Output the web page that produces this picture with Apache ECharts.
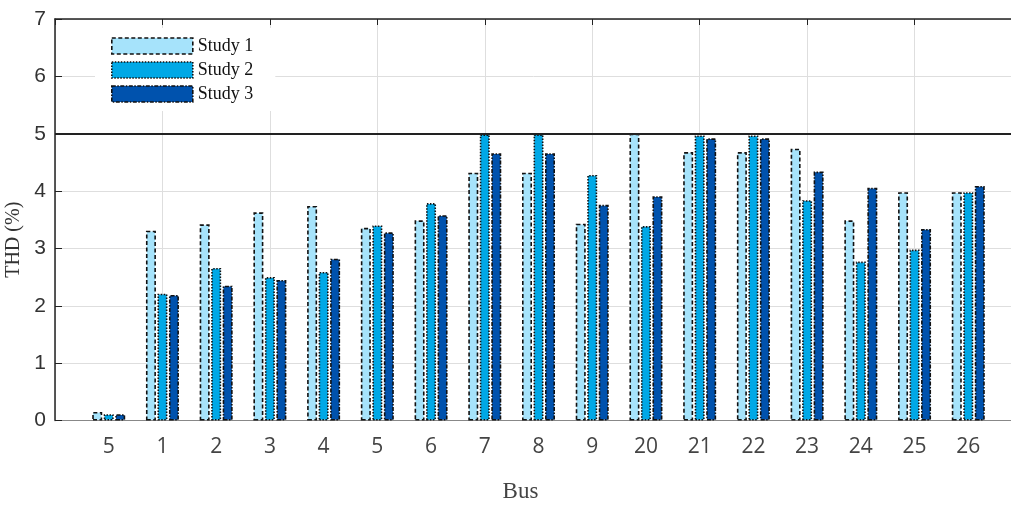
<!DOCTYPE html>
<html>
<head>
<meta charset="utf-8">
<script src="https://cdn.jsdelivr.net/npm/echarts@6/dist/echarts.min.js"></script>
<style>
  html, body { margin: 0; padding: 0; background: #fff; }
  #chart { width: 1011px; height: 507px; }
</style>
</head>
<body>
<div id="chart"></div>
<script>
// bus labels, in plot order
var buses = ["5", "1", "2", "3", "4", "5", "6", "7", "8", "9", "20", "21", "22", "23", "24", "25", "26"];
var study1 = [0.15, 3.31, 3.42, 3.63, 3.74, 3.36, 3.49, 4.32, 4.32, 3.43, 5.0, 4.68, 4.68, 4.74, 3.49, 3.98, 3.98];
var study2 = [0.11, 2.21, 2.66, 2.50, 2.59, 3.40, 3.79, 4.99, 4.99, 4.28, 3.39, 4.97, 4.97, 3.84, 2.77, 2.98, 3.98];
var study3 = [0.11, 2.19, 2.35, 2.45, 2.82, 3.28, 3.58, 4.66, 4.66, 3.76, 3.91, 4.92, 4.92, 4.34, 4.06, 3.34, 4.09];
var yTicks = [0, 1, 2, 3, 4, 5, 6, 7];
var limitTHD = 5;

// axis runs 0..18 like the matlab plot, so pad both ends
function pad(arr, v) { return [v].concat(arr, [v]); }
var xCats = pad(buses, "");

var dashes = {
  "Study 1": [4, 2.5],
  "Study 2": [1.5, 1.5],
  "Study 3": [4, 1.5, 1.5, 1.5]
};

var myChart = echarts.init(document.getElementById("chart"));

function barSeries(name, data, color) {
  return {
    name: name,
    type: "bar",
    xAxisIndex: 0,
    data: pad(data, null),
    barWidth: 10,
    barGap: "15%",
    itemStyle: {
      color: color,
      borderColor: "#111",
      borderWidth: 1.6,
      borderType: dashes[name]
    }
  };
}

var series = [
  barSeries("Study 1", study1, "#a6e3fb"),
  barSeries("Study 2", study2, "#00a8e6"),
  barSeries("Study 3", study3, "#0052ad")
];
series[0].markLine = {
  silent: true,
  symbol: "none",
  label: { show: false },
  lineStyle: { color: "#222", width: 2, type: "solid" },
  data: [{ yAxis: limitTHD }]
};

var option = {
  animation: false,
  backgroundColor: "#fff",
  grid: { left: 55, top: 19, right: -11, bottom: 86.5, containLabel: false, outerBoundsMode: "none" },
  legend: {
    orient: "vertical",
    left: 95,
    top: 28,
    padding: [9, 22, 8, 16],
    backgroundColor: "#fff",
    itemWidth: 81,
    itemHeight: 16,
    itemGap: 6,
    icon: "rect",
    textStyle: { fontFamily: "Liberation Serif", fontSize: 18, color: "#111" },
    data: ["Study 1", "Study 2", "Study 3"].map(function (n) {
      return { name: n, itemStyle: { borderColor: "#111", borderWidth: 1.6, borderType: dashes[n] } };
    })
  },
  xAxis: [
    {
      type: "category",
      data: xCats,
      boundaryGap: false,
      name: "Bus",
      nameLocation: "middle",
      nameGap: 60,
      nameTextStyle: { fontFamily: "Liberation Serif", fontSize: 23, color: "#444", padding: [0, 36, 0, 0] },
      axisLine: { lineStyle: { color: "#888", width: 1 } },
      axisTick: { show: false },
      axisLabel: { interval: 0, margin: 16, fontFamily: "Open Sans", fontSize: 21, color: "#444" },
      splitLine: { show: true, interval: 1, lineStyle: { color: "#dedede", width: 1 } }
    },
    {
      type: "category",
      data: xCats,
      boundaryGap: false,
      position: "top",
      axisLine: { lineStyle: { color: "#222", width: 1.5 } },
      axisTick: { show: true, inside: true, interval: 1, length: 6, lineStyle: { color: "#222" } },
      axisLabel: { show: false },
      splitLine: { show: false }
    }
  ],
  yAxis: {
    type: "value",
    min: yTicks[0],
    max: yTicks[yTicks.length - 1],
    interval: 1,
    name: "THD (%)",
    nameLocation: "middle",
    nameGap: 28,
    nameTextStyle: { fontFamily: "Liberation Serif", fontSize: 20, color: "#333", padding: [0, 40, 0, 0] },
    axisLine: { show: true, lineStyle: { color: "#222", width: 1.5 } },
    axisTick: { show: true, inside: true, length: 7, lineStyle: { color: "#222" } },
    axisLabel: { margin: 9, fontFamily: "Liberation Sans", fontSize: 21, color: "#333" },
    splitLine: { show: true, lineStyle: { color: "#dedede", width: 1 } }
  },
  series: series
};

myChart.setOption(option);
window.addEventListener("resize", function () { myChart.resize(); });
</script>
</body>
</html>
